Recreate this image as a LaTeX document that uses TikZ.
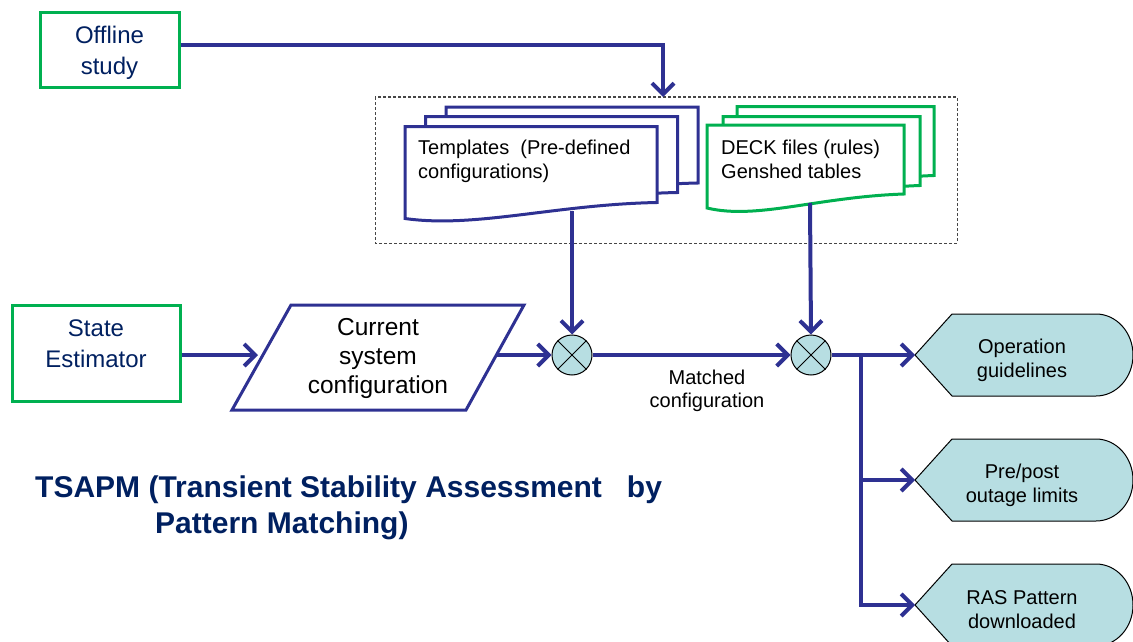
\documentclass[tikz,border=0pt]{standalone}
\usepackage{fontspec}
\setmainfont{Liberation Sans}
\usetikzlibrary{arrows.meta}
\definecolor{flow}{RGB}{46,49,146}
\definecolor{srcgreen}{RGB}{0,176,80}
\definecolor{navytext}{RGB}{0,32,96}
\definecolor{outfill}{RGB}{183,222,226}
\definecolor{framegray}{RGB}{70,70,70}
\begin{document}
\begin{tikzpicture}[x=1pt,y=-1pt,
  flowline/.style={draw=flow, line width=4pt},
  arr/.style={flowline, -{Straight Barb[length=11pt,width=22pt]}},
  srcbox/.style={draw=srcgreen, line width=3pt, fill=white, inner sep=0pt},
  srctext/.style={text=navytext, font=\fontsize{24}{31}\selectfont, align=center, inner sep=0pt},
  tpldoc/.style={draw=flow, line width=3pt, fill=white, line join=miter},
  deckdoc/.style={draw=srcgreen, line width=3pt, fill=white, line join=miter},
  doctext/.style={font=\fontsize{20}{24}\selectfont, align=left, inner sep=0pt, anchor=north west},
  mixer/.style={circle, draw=black, line width=1pt, fill=outfill, minimum size=40pt, inner sep=0pt},
  outbox/.style={draw=black, line width=1pt, fill=outfill},
  outtext/.style={font=\fontsize{20}{24}\selectfont, align=center},
  cfgbox/.style={draw=flow, line width=3pt, fill=white, line join=miter},
  titletext/.style={font=\fontsize{30}{36}\selectfont\bfseries, text=navytext, anchor=base west, inner sep=0pt}
]
\useasboundingbox (0,0) rectangle (1133,642);

% sources
\node[srcbox, minimum width=139pt, minimum height=75pt] (off) at (109.5,50.5) {};
\node[srctext] (offtext) at (109.5,53) {Offline\\study};
\node[srcbox, minimum width=168pt, minimum height=96pt] (se) at (96,353) {};
\node[srctext] (setext) at (96,344) {State\\Estimator};

% knowledge base frame
\draw[framegray, line width=1pt, dash pattern=on 3pt off 2pt] (375,97) rectangle (957,243);
\coordinate (kbin) at (663,97);

% template pages (back to front)
\foreach \dx/\dy in {41/107, 20.5/116.5, 0/126.5} {
  \begin{scope}[shift={(405+\dx,\dy)}]
    \draw[tpldoc] (0,0) -- (252,0) -- (252,76) .. controls (150,78) and (70,102) .. (0,92) -- cycle;
  \end{scope}
}
% rule-deck pages (back to front)
\foreach \dx/\dy in {30/106.5, 16/116.5, 0/125} {
  \begin{scope}[shift={(707+\dx,\dy)}]
    \draw[deckdoc] (0,0) -- (197,0) -- (197,69) .. controls (110,72) and (50,95) .. (0,83) -- cycle;
  \end{scope}
}
\node[doctext] (tpl) at (418,140) {Templates\ \ (Pre-defined\\configurations)};
\node[doctext] (deck) at (721,140) {DECK files (rules)\\Genshed tables};
\coordinate (tplout) at (572,211);
\coordinate (deckout) at (810,203);

% current configuration (parallelogram)
\draw[cfgbox] (291,305) -- (524,305) -- (466,410) -- (232,410) -- cycle;
\node[font=\fontsize{24.5}{29}\selectfont, align=center] (cfg) at (378,358) {Current\\system\\configuration};
\coordinate (cfgin) at (258,355);
\coordinate (cfgout) at (497,355);

% matching junctions
\node[mixer] (m1) at (572,355) {};
\node[mixer] (m2) at (811,355) {};
\foreach \m in {m1,m2} {
  \draw[line width=1pt] (\m.45) -- (\m.225) (\m.135) -- (\m.315);
}
\node[font=\fontsize{20}{23.5}\selectfont, align=center] (match) at (707,391) {Matched\\configuration};

% outputs
\foreach \c/\n in {355/1, 480/2, 605/3} {
  \draw[outbox] (915,\c) -- (952,\c-41) -- (1096,\c-41)
    arc[start angle=90, end angle=-90, x radius=37pt, y radius=41pt]
    -- (952,\c+41) -- cycle;
  \coordinate (o\n tip) at (915,\c);
}
\node[outtext] (o1) at (1022,360) {Operation\\guidelines};
\node[outtext] (o2) at (1022,485) {Pre/post\\outage limits};
\node[outtext] (o3) at (1022,610) {RAS Pattern\\downloaded};
\coordinate (split) at (861,355);

% connectors
\draw[arr] ([yshift=5.5pt]off.east) -| (kbin);
\draw[arr] (tplout) -- (m1.north);
\draw[arr] (deckout) -- (m2.north);
\draw[arr] (se.east |- cfgin) -- (cfgin);
\draw[arr] (cfgout) -- (m1.west);
\draw[arr] (m1.east) -- (m2.west);
\draw[arr] (m2.east) -- (o1tip);
\draw[arr] (split) |- (o2tip);
\draw[arr] (split) |- (o3tip);

% title
\node[titletext] (title1) at (35,497) {TSAPM (Transient Stability Assessment\ \ \ by};
\node[titletext] (title2) at (155,533) {Pattern Matching)};
\end{tikzpicture}
\end{document}
